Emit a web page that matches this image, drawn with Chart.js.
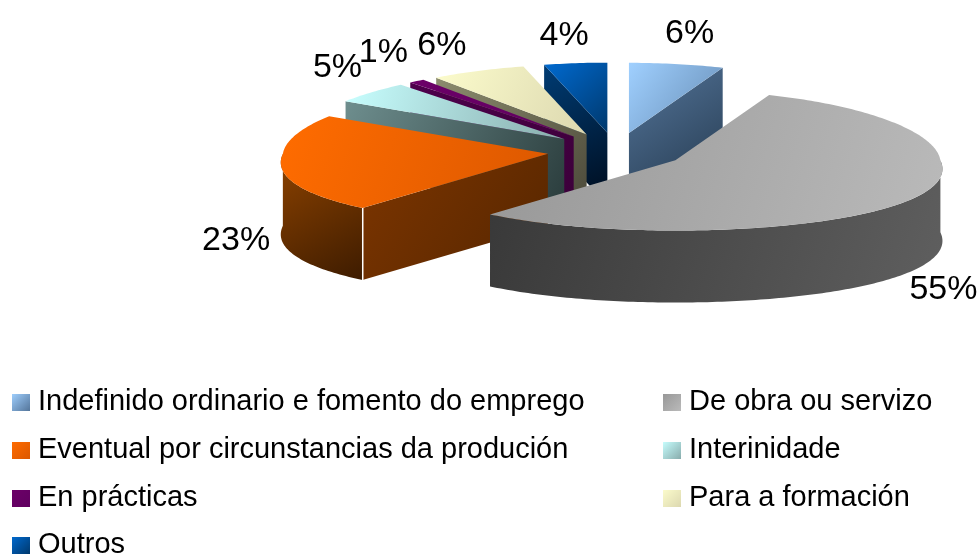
<!DOCTYPE html>
<html>
<head>
<meta charset="utf-8">
<title>Contratos</title>
<script src="https://cdn.jsdelivr.net/npm/chart.js@4/dist/chart.umd.min.js"></script>
<style>
  html, body { margin: 0; padding: 0; background: #fff; }
  canvas { display: block; }
</style>
</head>
<body>
<canvas id="pie3d" width="979" height="554"></canvas>
<script>
const categories = [
    'Indefinido ordinario e fomento do emprego',
    'De obra ou servizo',
    'Eventual por circunstancias da produción',
    'Interinidade',
    'En prácticas',
    'Para a formación',
    'Outros'
];
const shares = [6, 55, 23, 5, 1, 6, 4];

// colours per slice: top face, radial wall, outer rim (from -> to)
const topFrom = ['#a0d0ff', '#979797', '#ff6c00', '#c8ffff', '#6c0068', '#fcfccc', '#006ad0'];
const topTo = ['#668cb4', '#bababa', '#dc5800', '#88acac', '#600060', '#dcd8b0', '#00386c'];
const wallFrom = ['#54759a', '#3a3a3a', '#7c3500', '#6e8e8e', '#4e004c', '#8c8c6e', '#003c74'];
const wallTo = ['#22364a', '#5c5c5c', '#562600', '#2a3c3c', '#3c003a', '#4c4a3a', '#000c1c'];
const rimFrom = ['#54759a', '#383838', '#8c4200', '#6e8e8e', '#4e004c', '#8c8c6e', '#003c74'];
const rimTo = ['#22364a', '#5f5f5f', '#361800', '#2a3c3c', '#3c003a', '#4c4a3a', '#000c1c'];

const TILT = 0.265;
const DEPTH = 72;
const FONT = '"Liberation Sans", Arial, sans-serif';
// label nudges away from the rim mid point
const labelShift = [[11, -30], [40, 94], [-50, 76], [-28, -25], [-28, -28], [-32, -25], [-10, -28]];

function slicePoints(arc) {
    const mid = (arc.startAngle + arc.endAngle) / 2;
    const off = arc.options.offset;
    const px = arc.x + Math.cos(mid) * off;
    const py = arc.y + Math.sin(mid) * off * TILT;
    return { px, py, mid, r: arc.outerRadius, ry: arc.outerRadius * TILT };
}

// point on the rim, near side a bit wider than the far side (fake perspective)
function rimPoint(s, a) {
    const dy = s.ry * Math.sin(a);
    const k = 1 + (dy > 0 ? 0.0018 : 0.0006) * dy;
    return [s.px + s.r * Math.cos(a) * k, s.py + dy];
}

function traceRim(ctx, s, a0, a1, dy) {
    const steps = Math.max(2, Math.ceil(Math.abs(a1 - a0) * 60));
    for (let n = 0; n <= steps; n++) {
        const p = rimPoint(s, a0 + (a1 - a0) * n / steps);
        ctx.lineTo(p[0], p[1] + dy);
    }
}

function gradient(ctx, x0, y0, x1, y1, from, to) {
    const g = ctx.createLinearGradient(x0, y0, x1, y1);
    g.addColorStop(0, from);
    g.addColorStop(1, to);
    return g;
}

function drawWall(ctx, s, angle, i) {
    const [x, y] = rimPoint(s, angle);
    ctx.beginPath();
    ctx.moveTo(s.px, s.py);
    ctx.lineTo(x, y);
    ctx.lineTo(x, y + DEPTH);
    ctx.lineTo(s.px, s.py + DEPTH);
    ctx.closePath();
    ctx.fillStyle = gradient(ctx, Math.min(x, s.px), Math.min(y, s.py), Math.max(x, s.px), Math.max(y, s.py) + DEPTH, wallFrom[i], wallTo[i]);
    ctx.fill();
}

function drawRim(ctx, s, arc, i) {
    const a0 = Math.max(arc.startAngle, 0);
    const a1 = Math.min(arc.endAngle, Math.PI);
    if (a1 <= a0) return;
    const x0 = rimPoint(s, a1)[0];
    const x1 = rimPoint(s, a0)[0];
    ctx.beginPath();
    traceRim(ctx, s, a0, a1, 0);
    traceRim(ctx, s, a1, a0, DEPTH);
    ctx.closePath();
    const bot = s.py + s.ry + DEPTH;
    ctx.fillStyle = gradient(ctx, Math.min(x0, x1), s.py, Math.max(x0, x1), bot, rimFrom[i], rimTo[i]);
    ctx.fill();
}

function drawTop(ctx, s, arc, i) {
    const xs = [s.px];
    const ys = [s.py];
    for (let n = 0; n <= 40; n++) {
        const p = rimPoint(s, arc.startAngle + (arc.endAngle - arc.startAngle) * n / 40);
        xs.push(p[0]);
        ys.push(p[1]);
    }
    ctx.beginPath();
    ctx.moveTo(s.px, s.py);
    traceRim(ctx, s, arc.startAngle, arc.endAngle, 0);
    ctx.closePath();
    ctx.fillStyle = gradient(ctx, Math.min(...xs), Math.min(...ys), Math.max(...xs), Math.max(...ys), topFrom[i], topTo[i]);
    ctx.fill();
}

function drawLegend(ctx) {
    const colX = [12, 663];
    const rowY = [402, 450, 498, 545];
    ctx.font = '29px ' + FONT;
    ctx.textAlign = 'left';
    ctx.textBaseline = 'middle';
    categories.forEach((name, i) => {
        const x = colX[i % 2];
        const y = rowY[Math.floor(i / 2)];
        ctx.fillStyle = gradient(ctx, x, y - 9, x + 18, y + 9, topFrom[i], i === 0 ? wallFrom[i] : topTo[i]);
        ctx.fillRect(x, y - 8, 18, 17);
        ctx.fillStyle = '#000';
        ctx.fillText(name, x + 26, y);
    });
}

const pie3d = {
    id: 'pie3d',
    beforeDatasetsDraw(chart) {
        const ctx = chart.ctx;
        const arcs = chart.getDatasetMeta(0).data;
        // back slices first, the big front one last
        const order = [0, 6, 5, 4, 3, 2, 1];
        ctx.save();
        order.forEach(i => {
            const arc = arcs[i];
            const s = slicePoints(arc);
            if (Math.sin(arc.startAngle - Math.PI / 2) > 0) drawWall(ctx, s, arc.startAngle, i);
            if (Math.sin(arc.endAngle + Math.PI / 2) > 0) drawWall(ctx, s, arc.endAngle, i);
            drawRim(ctx, s, arc, i);
            drawTop(ctx, s, arc, i);
            // white seam on the orange corner
            if (i === 2) {
                const [x, y] = rimPoint(s, arc.startAngle);
                ctx.fillStyle = '#fff';
                ctx.fillRect(x - 0.5, y, 1.5, DEPTH);
            }
        });
        ctx.fillStyle = '#000';
        ctx.font = '34px ' + FONT;
        ctx.textAlign = 'center';
        ctx.textBaseline = 'middle';
        arcs.forEach((arc, i) => {
            const s = slicePoints(arc);
            const x = s.px + s.r * Math.cos(s.mid) + labelShift[i][0];
            const y = s.py + s.ry * Math.sin(s.mid) + labelShift[i][1];
            ctx.fillText(shares[i] + '%', x, y);
        });
        drawLegend(ctx);
        ctx.restore();
        return false;
    }
};

new Chart(document.getElementById('pie3d'), {
    type: 'pie',
    data: {
        labels: categories,
        datasets: [{
            data: shares,
            backgroundColor: topFrom,
            borderWidth: 0,
            offset: 69,
            radius: 265
        }]
    },
    options: {
        responsive: false,
        animation: false,
        layout: { padding: { left: 253, right: 0, top: 0, bottom: 252 } },
        plugins: { legend: { display: false }, tooltip: { enabled: false } }
    },
    plugins: [pie3d]
});
</script>
</body>
</html>
